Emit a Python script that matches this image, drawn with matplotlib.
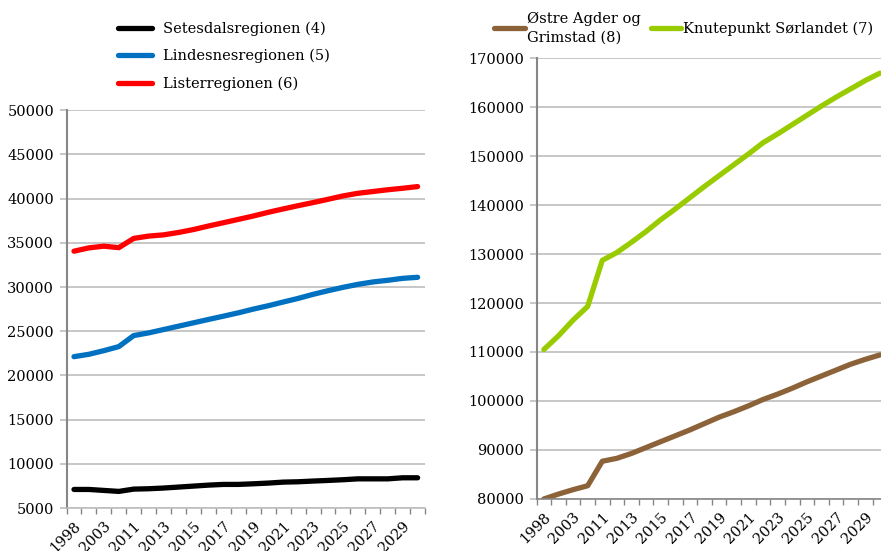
import matplotlib
matplotlib.use('Agg')
import matplotlib.pyplot as plt
from matplotlib.ticker import FixedLocator, NullFormatter

plt.rcParams['font.family'] = ['DejaVu Serif']

# kategorier (24 stk, bare annenhver vises)
years = ['1998', '2000', '2003', '2008'] + [str(y) for y in range(2011, 2031)]

setesdal = [7100, 7100, 6990, 6880, 7140, 7180, 7260, 7370, 7480, 7590, 7670, 7670,
            7740, 7820, 7930, 7970, 8050, 8120, 8200, 8300, 8300, 8300, 8420, 8420]
lindesnes = [22120, 22390, 22800, 23260, 24510, 24810, 25190, 25570, 25950, 26330, 26700, 27080,
             27500, 27880, 28300, 28710, 29170, 29580, 29960, 30300, 30570, 30760, 30980, 31100]
lister = [34050, 34430, 34620, 34450, 35500, 35760, 35900, 36170, 36500, 36900, 37270, 37650,
          38030, 38450, 38830, 39200, 39550, 39920, 40300, 40600, 40800, 41000, 41170, 41360]
ostre_agder = [80000, 81000, 81900, 82700, 87700, 88300, 89300, 90500, 91700, 92900, 94100, 95400,
               96700, 97800, 99000, 100300, 101400, 102600, 103900, 105100, 106300, 107500, 108500, 109400]
knutepunkt = [110500, 113300, 116500, 119300, 128700, 130300, 132400, 134600, 137000, 139200, 141500, 143800,
              146000, 148200, 150400, 152700, 154500, 156400, 158300, 160200, 162000, 163700, 165400, 166900]

grid_col = '#BEBEBE'
spine_col = '#868686'
fs = 10.5

fig = plt.figure(figsize=(8.81, 5.51), dpi=100)
ax1 = fig.add_axes([0.0755, 0.078, 0.407, 0.722])
ax2 = fig.add_axes([0.609, 0.0944, 0.398, 0.8003])

x = list(range(len(years)))


def style(ax, ymin, ymax, step):
    ax.set_xlim(-0.5, len(years) - 0.5)
    ax.set_ylim(ymin, ymax)
    ax.set_yticks(range(ymin, ymax + 1, step))
    ax.grid(axis='y', color=grid_col, linewidth=1.2)
    ax.set_axisbelow(True)
    for s in ['top', 'right']:
        ax.spines[s].set_visible(False)
    ax.spines['left'].set_color(spine_col)
    ax.spines['left'].set_linewidth(1.5)
    ax.spines['bottom'].set_color(grid_col)
    ax.spines['bottom'].set_linewidth(1.2)
    ax.tick_params(axis='y', length=5, color=grid_col, width=1.2, labelsize=fs, pad=4)
    ax.set_xticks(x[::2])
    ax.set_xticklabels(years[::2], rotation=45, ha='right', rotation_mode='anchor', fontsize=fs)
    ax.xaxis.set_minor_locator(FixedLocator([i - 0.5 for i in range(len(years) + 1)]))
    ax.xaxis.set_minor_formatter(NullFormatter())
    ax.tick_params(axis='x', which='major', length=0, pad=8)
    ax.tick_params(axis='x', which='minor', length=4, color=spine_col, width=1)


style(ax1, 5000, 50000, 5000)
ax1.plot(x, setesdal, color='black', lw=3.8, label='Setesdalsregionen (4)', solid_capstyle='round')
ax1.plot(x, lindesnes, color='#0070C0', lw=3.8, label='Lindesnesregionen (5)', solid_capstyle='round')
ax1.plot(x, lister, color='#FF0000', lw=3.8, label='Listerregionen (6)', solid_capstyle='round')
ax1.legend(loc='upper left', bbox_to_anchor=(0.119, 0.985), bbox_transform=fig.transFigure,
           frameon=False, fontsize=fs, handlelength=2.3, handletextpad=0.8, labelspacing=0.9)

style(ax2, 80000, 170000, 10000)
ax2.spines['bottom'].set_color(spine_col)
ax2.plot(x, ostre_agder, color='#8C6239', lw=3.8, label='Østre Agder og\nGrimstad (8)', solid_capstyle='round')
ax2.plot(x, knutepunkt, color='#99CC00', lw=3.8, label='Knutepunkt Sørlandet (7)', solid_capstyle='round')
leg = ax2.legend(loc='upper left', bbox_to_anchor=(0.554, 0.99), bbox_transform=fig.transFigure,
                 frameon=False, fontsize=fs, ncol=2, handlelength=2.1, handletextpad=0.15,
                 columnspacing=0.7, borderaxespad=0)
for t in leg.get_texts():
    t.set_linespacing(1.45)

fig.savefig('out.png', dpi=100)
